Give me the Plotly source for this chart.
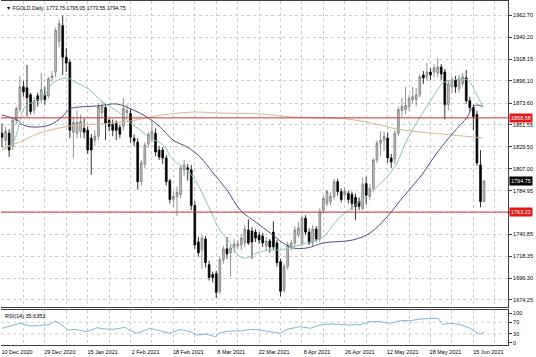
import plotly.graph_objects as go

# ---------------- data ----------------
tick_labels = ["10 Dec 2020", "29 Dec 2020", "15 Jan 2021", "2 Feb 2021", "18 Feb 2021",
               "8 Mar 2021", "22 Mar 2021", "8 Apr 2021", "26 Apr 2021", "12 May 2021",
               "28 May 2021", "15 Jun 2021"]
tick_bars = [0, 12, 24, 36, 48, 60, 72, 84, 96, 108, 120, 132]

bar_open = [1843, 1836, 1843, 1830, 1856, 1867, 1890, 1889, 1882, 1866,
            1881, 1877, 1882, 1881, 1899, 1905, 1936, 1952, 1920, 1915,
            1844, 1843, 1845, 1848, 1846, 1838, 1836, 1840, 1864, 1869,
            1856, 1852, 1853, 1849, 1850, 1864, 1863, 1838, 1834, 1794,
            1812, 1832, 1838, 1843, 1826, 1826, 1818, 1795, 1776, 1779,
            1781, 1806, 1808, 1806, 1770, 1733, 1725, 1736, 1710, 1700,
            1701, 1683, 1715, 1726, 1722, 1727, 1729, 1730, 1732, 1745,
            1744, 1743, 1740, 1739, 1729, 1734, 1743, 1732, 1713, 1684,
            1708, 1727, 1732, 1740, 1732, 1757, 1743, 1732, 1746, 1736,
            1765, 1772, 1774, 1779, 1794, 1784, 1781, 1782, 1781, 1778,
            1774, 1767, 1792, 1779, 1787, 1816, 1833, 1836, 1838, 1818,
            1817, 1843, 1866, 1867, 1870, 1877, 1877, 1882, 1902, 1900,
            1905, 1905, 1904, 1910, 1905, 1872, 1890, 1897, 1888, 1893,
            1899, 1876, 1869, 1862, 1811, 1773.75]
bar_high = [1853, 1850, 1847, 1859, 1870, 1901, 1896, 1912, 1884, 1880,
            1884, 1904, 1890, 1900, 1906, 1950, 1958, 1962, 1929, 1918,
            1860, 1866, 1862, 1858, 1850, 1842, 1846, 1873, 1875, 1873,
            1858, 1857, 1856, 1852, 1879, 1872, 1868, 1842, 1838, 1816,
            1834, 1844, 1856, 1848, 1830, 1829, 1821, 1797, 1785, 1789,
            1811, 1816, 1812, 1811, 1774, 1738, 1740, 1739, 1714, 1703,
            1704, 1718, 1729, 1738, 1730, 1736, 1735, 1741, 1750, 1756,
            1748, 1746, 1743, 1742, 1738, 1736, 1754, 1735, 1716, 1711,
            1733, 1735, 1749, 1753, 1760, 1760, 1747, 1750, 1749, 1767,
            1780, 1786, 1783, 1797, 1797, 1787, 1788, 1785, 1784, 1782,
            1778, 1798, 1799, 1792, 1818, 1836, 1845, 1845, 1844, 1822,
            1846, 1870, 1879, 1890, 1882, 1890, 1889, 1903, 1906, 1914,
            1909, 1913, 1919, 1913, 1908, 1897, 1900, 1901, 1902, 1904,
            1907, 1880, 1872, 1866, 1826, 1795.05]
bar_low = [1829, 1830, 1819, 1826, 1852, 1864, 1880, 1860, 1862, 1862,
           1870, 1873, 1872, 1878, 1895, 1900, 1930, 1902, 1905, 1838,
           1818, 1838, 1838, 1838, 1822, 1801, 1830, 1836, 1858, 1836,
           1845, 1840, 1836, 1838, 1846, 1858, 1833, 1830, 1786, 1790,
           1808, 1828, 1834, 1820, 1816, 1812, 1790, 1772, 1768, 1759,
           1777, 1800, 1795, 1765, 1726, 1718, 1706, 1707, 1694, 1692,
           1676, 1680, 1711, 1716, 1698, 1722, 1726, 1725, 1728, 1730,
           1716, 1733, 1731, 1728, 1724, 1722, 1725, 1708, 1678, 1682,
           1705, 1724, 1728, 1737, 1729, 1740, 1730, 1728, 1733, 1733,
           1762, 1769, 1770, 1776, 1780, 1773, 1776, 1772, 1765, 1755,
           1765, 1765, 1771, 1775, 1784, 1813, 1820, 1825, 1813, 1808,
           1812, 1840, 1860, 1862, 1866, 1873, 1870, 1879, 1893, 1896,
           1897, 1900, 1900, 1897, 1857, 1866, 1884, 1884, 1884, 1890,
           1873, 1865, 1846, 1810, 1768, 1773.55]
bar_close = [1839, 1845, 1826, 1856, 1868, 1890, 1885, 1879, 1865, 1876,
             1876, 1887, 1877, 1898, 1901, 1947, 1954, 1920, 1914, 1846,
             1854, 1854, 1855, 1844, 1826, 1826, 1840, 1870, 1870, 1853,
             1850, 1846, 1846, 1842, 1868, 1866, 1839, 1835, 1794, 1813,
             1831, 1842, 1845, 1824, 1819, 1818, 1794, 1776, 1779, 1783,
             1808, 1811, 1806, 1770, 1730, 1722, 1737, 1712, 1697, 1697,
             1682, 1715, 1726, 1721, 1727, 1731, 1731, 1737, 1746, 1732,
             1733, 1737, 1735, 1732, 1734, 1728, 1728, 1712, 1683, 1708,
             1730, 1732, 1745, 1747, 1757, 1743, 1732, 1746, 1736, 1764,
             1777, 1784, 1779, 1794, 1784, 1776, 1784, 1776, 1772, 1769,
             1769, 1791, 1780, 1787, 1816, 1833, 1836, 1840, 1818, 1814,
             1843, 1867, 1870, 1871, 1878, 1880, 1882, 1900, 1899, 1905,
             1902, 1909, 1910, 1903, 1872, 1893, 1897, 1890, 1898, 1900,
             1876, 1869, 1860, 1813, 1774, 1794.75]

# moving averages (bar index, price)
ma_fast_bar = [0, 3, 6.4, 8.7, 11.5, 14.3, 18.2, 21, 24.6, 27.5, 30.3, 33, 35.9, 38.7, 41.5,
               45.1, 47.9, 51.8, 54.6, 58.3, 61, 63.9, 66.7, 68.6, 71.4, 75, 77.9, 81.5,
               85.4, 89.9, 93.8, 98.3, 103.1, 107.8, 110.6, 113.4, 117.1, 120.7, 123.5,
               126.3, 130.3, 131.9, 133.3, 134.7]
ma_fast_val = [1826, 1833, 1869.6, 1874.6, 1879.7, 1893.9, 1898.9, 1893.9, 1886.8, 1876.7,
               1869.6, 1863.5, 1853.4, 1846.3, 1838.2, 1831.1, 1816, 1805.8, 1792.7, 1765.3,
               1745.1, 1732, 1717.8, 1716.8, 1721.8, 1724.9, 1724.9, 1727.9, 1732, 1738,
               1755.2, 1768.4, 1782.5, 1798.7, 1812.9, 1836.2, 1859.5, 1879.7, 1893.9,
               1896.9, 1896.9, 1889.8, 1879.7, 1869.6]
ma_mid_bar = [0, 4.2, 5.9, 8.7, 13.4, 16.8, 19, 21.8, 26.6, 32.2, 36.7, 40.6, 44.3, 47.9,
              51.8, 55.5, 59.1, 63, 66.7, 71.4, 75.1, 78.7, 81.5, 85.4, 89.9, 98.3, 103.1,
              107.8, 112.3, 117.1, 121.8, 126.3, 130.3, 131.9, 133.3, 134.7]
ma_mid_val = [1861.5, 1856.4, 1851.4, 1849.3, 1851.4, 1859.5, 1867.6, 1869.6, 1870.6, 1872.6,
              1866.6, 1859.5, 1849.3, 1836.2, 1829.1, 1819, 1802.8, 1785.6, 1765.3, 1752.2,
              1742.1, 1731.9, 1726.9, 1726.9, 1731.9, 1735, 1742.1, 1758.3, 1778.5, 1798.7,
              1823.1, 1843.3, 1859.5, 1869.6, 1871.6, 1869.6]
ma_slow_bar = [0, 5, 10.6, 16.2, 21, 27.5, 35.9, 41.5, 47.1, 53.5, 61.1, 72.3, 81.5, 89.9,
               96.6, 105.9, 110.6, 117.1, 126.3, 134.7]
ma_slow_val = [1828.1, 1834.2, 1843.3, 1848.3, 1851.4, 1852.4, 1855.4, 1859.5, 1862.5, 1864.5,
               1863.5, 1862.5, 1859.5, 1858.5, 1857.5, 1851.4, 1847.3, 1844.3, 1841.2, 1838.2]

rsi_bar = [0, 5, 7.8, 10.6, 13.4, 14.8, 16.2, 18.5, 20.4, 23.8, 26.6, 28.3, 31.1, 34.5, 35.9,
           37.8, 41.5, 45.1, 47, 49.9, 52.7, 54.6, 57.4, 59.7, 61, 63.9, 66.7, 69.5, 72.3,
           75, 77.9, 79.8, 83.5, 86.3, 89.1, 91.9, 94.7, 97.5, 100.3, 103.1, 105.9, 108.7,
           111.5, 114.3, 117.1, 119.9, 122.1, 123.5, 125.5, 128.3, 131.1, 133, 134, 135]
rsi_val = [49, 66, 57, 58, 62.4, 73.7, 66, 43, 45.5, 37.5, 51, 47, 45.5, 52, 41, 32, 49, 37,
           32, 45, 37.5, 26.3, 28.6, 20.6, 34, 40, 40, 45.5, 43, 37.5, 32, 45.5, 54.6, 49,
           60.2, 63.6, 62, 60.2, 61.3, 71.5, 71.5, 66, 74.9, 74.9, 80.6, 82.9, 82.9, 62,
           66, 62, 49, 34, 29, 35.6353]

level_lines = [1858.58, 1763.22]
last_price = 1794.75
price_ticks = [1962.70, 1940.20, 1918.15, 1896.10, 1873.60, 1851.55, 1829.50, 1807.00,
               1784.95, 1762.90, 1740.85, 1718.35, 1696.30, 1674.25]
price_tick_text = ["1962.70", "1940.20", "1918.15", "1896.10", "1873.60", "1851.55", "1829.50",
                   "1807.00", "1784.95", "", "1740.85", "1718.35", "1696.30", "1674.25"]
rsi_ticks = [100, 70, 30, 0]
rsi_levels = [70, 30]

# ---------------- figure ----------------
FONT = "Liberation Sans, Arial, sans-serif"
FS = 5.5
GRID = "#cdcdcd"
AXIS = "#404040"
bars = list(range(len(bar_close)))

fig = go.Figure()
fig.add_trace(go.Candlestick(
    x=bars, open=bar_open, high=bar_high, low=bar_low, close=bar_close,
    increasing=dict(line=dict(color="#7a7a7a", width=0.8), fillcolor="#c4c4c4"),
    decreasing=dict(line=dict(color="#000000", width=0.8), fillcolor="#000000"),
    whiskerwidth=0, xaxis="x", yaxis="y", showlegend=False, hoverinfo="skip"))
fig.add_trace(go.Scatter(x=ma_slow_bar, y=ma_slow_val, mode="lines",
                         line=dict(color="#d6b894", width=1, shape="spline"),
                         xaxis="x", yaxis="y", showlegend=False, hoverinfo="skip"))
fig.add_trace(go.Scatter(x=ma_mid_bar, y=ma_mid_val, mode="lines",
                         line=dict(color="#4e4e80", width=1, shape="spline"),
                         xaxis="x", yaxis="y", showlegend=False, hoverinfo="skip"))
fig.add_trace(go.Scatter(x=ma_fast_bar, y=ma_fast_val, mode="lines",
                         line=dict(color="#8cc4b4", width=1, shape="spline"),
                         xaxis="x", yaxis="y", showlegend=False, hoverinfo="skip"))
fig.add_trace(go.Scatter(x=rsi_bar, y=rsi_val, mode="lines", line=dict(color="#80b4d4", width=1),
                         xaxis="x2", yaxis="y2", showlegend=False, hoverinfo="skip"))

xcommon = dict(range=[-0.28, 141.7], tickmode="array", tickvals=tick_bars, ticktext=tick_labels,
               showline=True, mirror=True, linecolor=AXIS, linewidth=1, zeroline=False,
               showgrid=True, gridcolor=GRID, griddash="dot", gridwidth=1,
               minor=dict(tickmode="linear", tick0=0, dtick=6, showgrid=True, gridcolor=GRID,
                          griddash="dot", gridwidth=1, ticks=""),
               rangeslider=dict(visible=False), ticks="")

fig.update_layout(
    width=536, height=357, margin=dict(l=1, r=28, t=1, b=12),
    paper_bgcolor="white", plot_bgcolor="white",
    font=dict(family=FONT, size=FS, color="#000000"),
    xaxis=dict(domain=[0, 1], anchor="y", showticklabels=False, **xcommon),
    xaxis2=dict(domain=[0, 1], anchor="y2", matches="x", showticklabels=True,
                ticklabelshift=15, ticklabelstandoff=1,
                tickfont=dict(family=FONT, size=FS), **xcommon),
    yaxis=dict(domain=[0.1105, 1], anchor="x", side="right", range=[1667.16, 1976.87],
               tickmode="array", tickvals=price_ticks, ticktext=price_tick_text,
               ticks="outside", ticklen=3, tickcolor=AXIS, showline=True, linecolor=AXIS,
               showgrid=True, gridcolor=GRID, griddash="dot", gridwidth=1,
               zeroline=False, tickfont=dict(family=FONT, size=FS)),
    yaxis2=dict(domain=[0, 0.1017], anchor="x2", side="right", range=[-7.8, 111.2],
                tickmode="array", tickvals=rsi_ticks, ticktext=[str(v) for v in rsi_ticks],
                ticks="outside", ticklen=3, tickcolor=AXIS, showline=True, linecolor=AXIS,
                showgrid=False, zeroline=False, tickfont=dict(family=FONT, size=FS)),
    hovermode=False,
)

for lv in rsi_levels:
    fig.add_shape(type="line", xref="x2 domain", yref="y2", x0=0, x1=1, y0=lv, y1=lv,
                  line=dict(color=GRID, width=1, dash="dot"), layer="below")

for lv in level_lines:
    fig.add_shape(type="line", xref="x domain", yref="y", x0=0, x1=1, y0=lv, y1=lv,
                  line=dict(color="#c83232", width=1))
    fig.add_annotation(xref="paper", yref="y", x=1.0, y=lv, xanchor="left", yanchor="middle",
                       text=f"{lv:.2f}", showarrow=False, bgcolor="#e01818",
                       font=dict(color="white", size=FS, family=FONT), borderpad=1, xshift=1)
fig.add_annotation(xref="paper", yref="y", x=1.0, y=last_price, xanchor="left", yanchor="middle",
                   text=f"{last_price:.2f}", showarrow=False, bgcolor="#000000",
                   font=dict(color="white", size=FS, family=FONT), borderpad=1, xshift=1)

fig.add_annotation(xref="paper", yref="paper", x=0, y=1, xanchor="left", yanchor="top",
                   text="▼ FGOLD,Daily  1773.75 1795.05 1773.55 1794.75", showarrow=False,
                   font=dict(size=5.2, family=FONT, color="#000000"), xshift=3, yshift=-2)
fig.add_annotation(xref="paper", yref="paper", x=0, y=0.1017, xanchor="left", yanchor="top",
                   text=f"RSI(14) {rsi_val[-1]:.4f}", showarrow=False,
                   font=dict(size=FS, family=FONT, color="#000000"), xshift=2, yshift=-1)

fig.write_html("out.html", config={"displayModeBar": False, "staticPlot": True}, post_script=(
    "document.body.style.margin='0px';document.body.style.padding='0px';"
    "document.documentElement.style.overflow='hidden';"))
